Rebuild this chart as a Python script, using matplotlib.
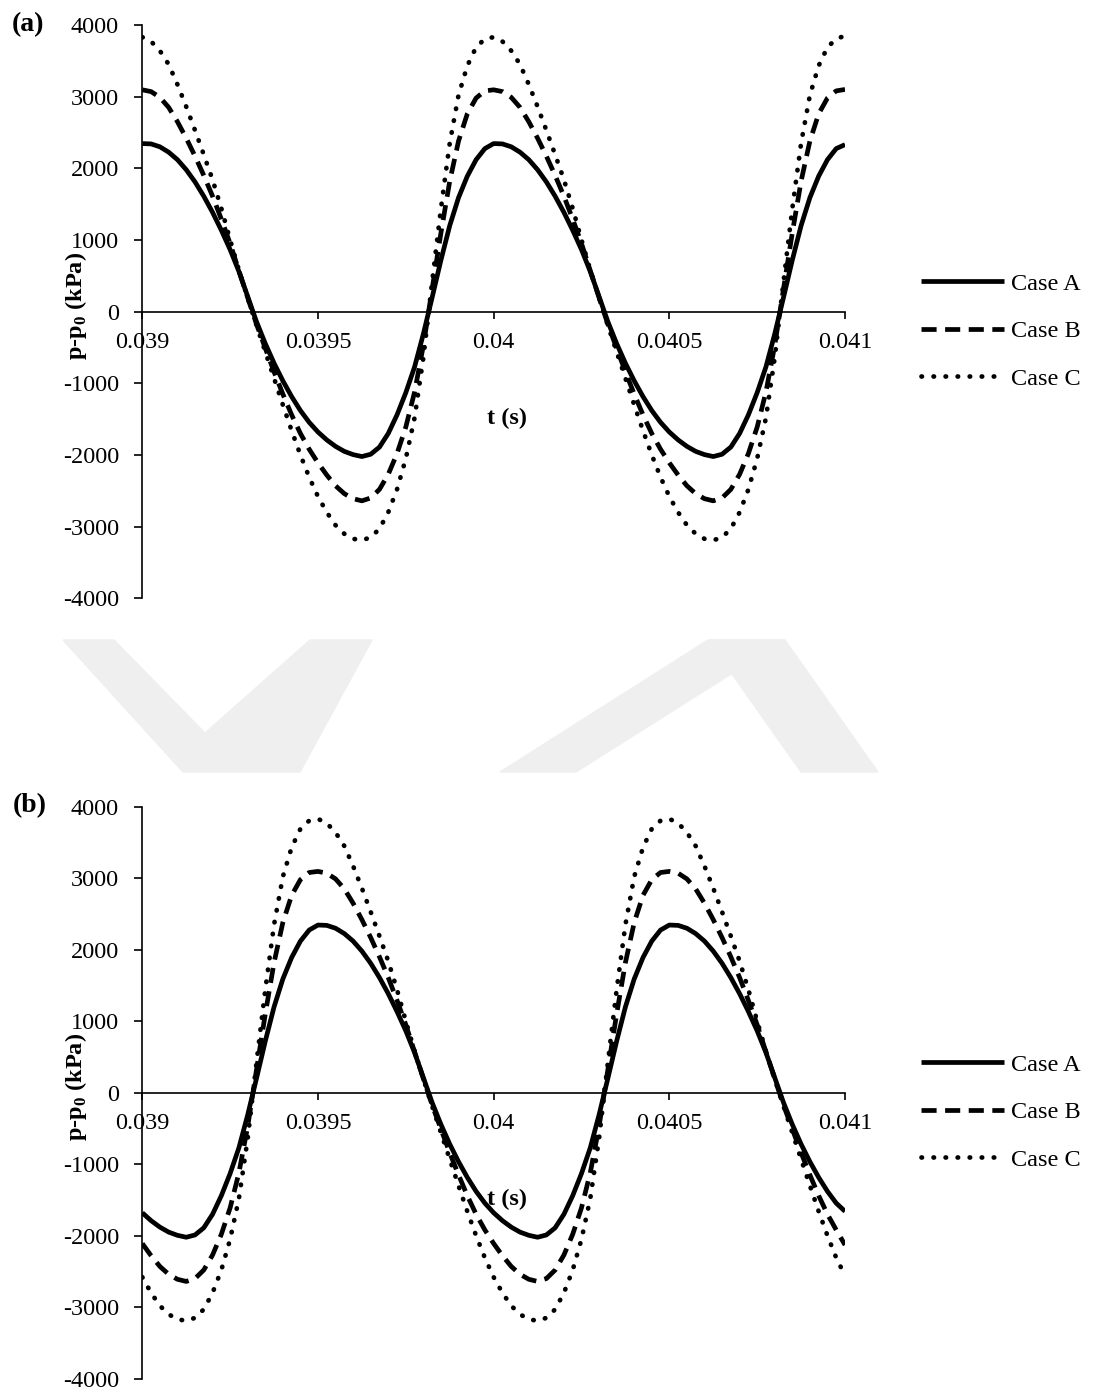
import numpy as np
import matplotlib
matplotlib.use("Agg")
import matplotlib.pyplot as plt

plt.rcParams["font.family"] = "Liberation Serif"
plt.rcParams["mathtext.fontset"] = "custom"
plt.rcParams["mathtext.rm"] = "Liberation Serif"
plt.rcParams["mathtext.bf"] = "Liberation Serif:bold"

# time samples (s), 0.000025 s apart
t = np.linspace(0.039, 0.041, 81)

# panel (a), p-p0 in kPa
a_case_A = [
    2345, 2340, 2300, 2225, 2120, 1980, 1810, 1610, 1385, 1135,
    865, 560, 210, -140, -445, -720, -965, -1185, -1380, -1545,
    -1680, -1790, -1880, -1950, -1995, -2022, -1990, -1890, -1700, -1440,
    -1130, -770, -310, 200, 720, 1200, 1590, 1890, 2120, 2275,
    2345, 2340, 2300, 2225, 2120, 1980, 1810, 1610, 1385, 1135,
    865, 560, 210, -140, -445, -720, -965, -1185, -1380, -1545,
    -1680, -1790, -1880, -1950, -1995, -2022, -1990, -1890, -1700, -1440,
    -1130, -770, -310, 200, 720, 1200, 1590, 1890, 2120, 2275,
    2330]
a_case_B = [
    3095, 3070, 2990, 2850, 2650, 2420, 2170, 1900, 1610, 1290,
    950, 570, 195, -175, -510, -840, -1150, -1440, -1700, -1920,
    -2110, -2280, -2430, -2540, -2610, -2640, -2600, -2480, -2270, -1980,
    -1610, -1120, -470, 320, 1100, 1820, 2380, 2760, 2980, 3080,
    3095, 3070, 2990, 2850, 2650, 2420, 2170, 1900, 1610, 1290,
    950, 570, 195, -175, -510, -840, -1150, -1440, -1700, -1920,
    -2110, -2280, -2430, -2540, -2610, -2640, -2600, -2480, -2270, -1980,
    -1610, -1120, -470, 320, 1100, 1820, 2380, 2760, 2980, 3080,
    3100]
a_case_C = [
    3830, 3770, 3640, 3450, 3170, 2860, 2530, 2190, 1840, 1440,
    1000, 580, 190, -190, -560, -930, -1300, -1660, -2000, -2310,
    -2580, -2800, -2980, -3100, -3170, -3190, -3150, -3030, -2800, -2480,
    -2050, -1480, -640, 420, 1440, 2350, 3020, 3430, 3690, 3805,
    3830, 3770, 3640, 3450, 3170, 2860, 2530, 2190, 1840, 1440,
    1000, 580, 190, -190, -560, -930, -1300, -1660, -2000, -2310,
    -2580, -2800, -2980, -3100, -3170, -3190, -3150, -3030, -2800, -2480,
    -2050, -1480, -640, 420, 1440, 2350, 3020, 3430, 3690, 3805,
    3850]

# panel (b)
b_case_A = [
    -1680, -1790, -1880, -1950, -1995, -2022, -1990, -1890, -1700, -1440,
    -1130, -770, -310, 200, 720, 1200, 1590, 1890, 2120, 2275,
    2345, 2340, 2300, 2225, 2120, 1980, 1810, 1610, 1385, 1135,
    865, 560, 210, -140, -445, -720, -965, -1185, -1380, -1545,
    -1680, -1790, -1880, -1950, -1995, -2022, -1990, -1890, -1700, -1440,
    -1130, -770, -310, 200, 720, 1200, 1590, 1890, 2120, 2275,
    2345, 2340, 2300, 2225, 2120, 1980, 1810, 1610, 1385, 1135,
    865, 560, 210, -140, -445, -720, -965, -1185, -1380, -1545,
    -1660]
b_case_B = [
    -2110, -2280, -2430, -2540, -2610, -2640, -2600, -2480, -2270, -1980,
    -1610, -1120, -470, 320, 1100, 1820, 2380, 2760, 2980, 3080,
    3095, 3070, 2990, 2850, 2650, 2420, 2170, 1900, 1610, 1290,
    950, 570, 195, -175, -510, -840, -1150, -1440, -1700, -1920,
    -2110, -2280, -2430, -2540, -2610, -2640, -2600, -2480, -2270, -1980,
    -1610, -1120, -470, 320, 1100, 1820, 2380, 2760, 2980, 3080,
    3095, 3070, 2990, 2850, 2650, 2420, 2170, 1900, 1610, 1290,
    950, 570, 195, -175, -510, -840, -1150, -1440, -1700, -1920,
    -2130]
b_case_C = [
    -2580, -2800, -2980, -3100, -3170, -3190, -3150, -3030, -2800, -2480,
    -2050, -1480, -640, 420, 1440, 2350, 3020, 3430, 3690, 3805,
    3830, 3770, 3640, 3450, 3170, 2860, 2530, 2190, 1840, 1440,
    1000, 580, 190, -190, -560, -930, -1300, -1660, -2000, -2310,
    -2580, -2800, -2980, -3100, -3170, -3190, -3150, -3030, -2800, -2480,
    -2050, -1480, -640, 420, 1440, 2350, 3020, 3430, 3690, 3805,
    3830, 3770, 3640, 3450, 3170, 2860, 2530, 2190, 1840, 1440,
    1000, 580, 190, -190, -560, -930, -1300, -1660, -2000, -2310,
    -2560]

x_ticks = [0.039, 0.0395, 0.04, 0.0405, 0.041]
x_ticklabels = ["0.039", "0.0395", "0.04", "0.0405", "0.041"]
y_ticks = [-4000, -3000, -2000, -1000, 0, 1000, 2000, 3000, 4000]
labels = ["Case A", "Case B", "Case C"]

FS = 17.5
LW = 3.4
W, H = 1098, 1394

fig = plt.figure(figsize=(10.98, 13.94), dpi=100)

# faint watermark between the panels (pixel outlines, top-left origin)
wm = "#efefef"
shapes = [
    [(63, 640), (114, 640), (205, 733), (310, 640), (372, 640),
     (300, 772), (183, 772)],
    [(500, 772), (576, 772), (785, 640), (708, 640)],
    [(708, 640), (785, 640), (878, 772), (801, 772)],
]
for pts in shapes:
    fig.patches.append(plt.Polygon([(x / W, 1 - y / H) for x, y in pts],
                                   closed=True, transform=fig.transFigure,
                                   color=wm, zorder=0))

ax_a = fig.add_axes([0.1296, 0.5708, 0.640, 0.4113])
ax_b = fig.add_axes([0.1296, 0.0110, 0.640, 0.4103])


def draw(ax, A, B, C):
    ax.patch.set_alpha(0)
    ax.plot(t, A, color="black", lw=LW, solid_capstyle="butt", label=labels[0])
    ax.plot(t, B, color="black", lw=LW, linestyle=(0, (3.2, 1.8)),
            dash_capstyle="butt", label=labels[1])
    ax.plot(t, C, color="black", lw=LW, linestyle=(0, (0.1, 2.45)),
            dash_capstyle="round", label=labels[2])

    ax.set_xlim(0.039, 0.041)
    ax.set_ylim(-4000, 4000)
    ax.set_xticks(x_ticks)
    ax.set_xticklabels(x_ticklabels)
    ax.set_yticks(y_ticks)
    ax.set_yticklabels([str(v) for v in y_ticks])

    ax.spines["top"].set_visible(False)
    ax.spines["right"].set_visible(False)
    ax.spines["bottom"].set_position(("data", 0))
    ax.spines["left"].set_linewidth(1.2)
    ax.spines["bottom"].set_linewidth(1.2)
    ax.tick_params(axis="x", direction="out", length=4.8, width=1.2,
                   pad=10, labelsize=FS)
    ax.tick_params(axis="y", direction="out", length=5.8, width=1.2,
                   pad=11, labelsize=FS)

    ax.set_ylabel(r"p-p$_\mathbf{0}$ (kPa)", fontsize=FS, fontweight="bold")
    ax.yaxis.set_label_coords(-0.076, 0.51)
    ax.text(0.519, 0.3135, "t (s)", transform=ax.transAxes, ha="center",
            va="center", fontsize=FS, fontweight="bold")

    ax.legend(loc="center left", bbox_to_anchor=(1.108, 0.466), frameon=False,
              fontsize=FS, handlelength=3.4, handletextpad=0.3,
              labelspacing=1.05, borderpad=0, borderaxespad=0)


draw(ax_a, a_case_A, a_case_B, a_case_C)
draw(ax_b, b_case_A, b_case_B, b_case_C)

fig.text(28 / W, 1 - 25 / H, "(a)", fontsize=20, fontweight="bold",
         ha="center", va="center")
fig.text(30 / W, 1 - 806 / H, "(b)", fontsize=20, fontweight="bold",
         ha="center", va="center")

fig.savefig("out.png", dpi=100)
